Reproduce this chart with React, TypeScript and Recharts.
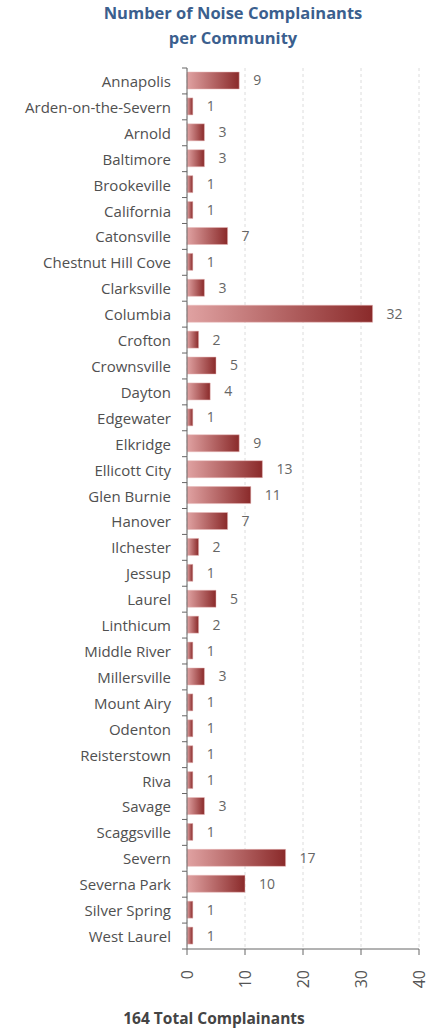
import { Bar, BarChart, CartesianGrid, LabelList, XAxis, YAxis } from "recharts";

const communities = [
  "Annapolis", "Arden-on-the-Severn", "Arnold", "Baltimore", "Brookeville", "California",
  "Catonsville", "Chestnut Hill Cove", "Clarksville", "Columbia", "Crofton", "Crownsville",
  "Dayton", "Edgewater", "Elkridge", "Ellicott City", "Glen Burnie", "Hanover", "Ilchester",
  "Jessup", "Laurel", "Linthicum", "Middle River", "Millersville", "Mount Airy", "Odenton",
  "Reisterstown", "Riva", "Savage", "Scaggsville", "Severn", "Severna Park", "Silver Spring",
  "West Laurel",
];
const complainants = [
  9, 1, 3, 3, 1, 1, 7, 1, 3, 32, 2, 5, 4, 1, 9, 13, 11, 7, 2, 1, 5, 2, 1, 3, 1, 1, 1, 1, 3, 1,
  17, 10, 1, 1,
];
const xTicks = [0, 10, 20, 30, 40];

const W = 436;
const H = 1029;
const TOP = 68;
const BOTTOM = 80;
const BAND = (H - TOP - BOTTOM) / communities.length;
const FONT = "'Open Sans', 'Noto Sans', sans-serif";

const data = communities.map((name, i) => ({ name, value: complainants[i] }));

function CategoryTick({ x, y, payload, index }: any) {
  const last = index === communities.length - 1;
  return (
    <g>
      <line x1={x - 5} x2={x} y1={y - BAND / 2} y2={y - BAND / 2} stroke="#666" />
      {last && <line x1={x - 5} x2={x} y1={y + BAND / 2} y2={y + BAND / 2} stroke="#666" />}
      <text x={x - 16} y={y} textAnchor="end" dominantBaseline="central" fill="#505050" fontSize={15} fontFamily={FONT}>
        {payload.value}
      </text>
    </g>
  );
}

function ValueTick({ x, y, payload }: any) {
  return (
    <text
      x={x}
      y={y + 13}
      transform={`rotate(-90, ${x}, ${y + 13})`}
      textAnchor="end"
      dominantBaseline="central"
      fill="#555"
      fontSize={16}
      fontFamily={FONT}
    >
      {payload.value}
    </text>
  );
}

export default function App() {
  return (
    <div style={{ position: "absolute", left: 0, top: 0, width: W, height: H, background: "#fff", fontFamily: FONT }}>
      <div
        style={{
          position: "absolute",
          top: 0,
          left: 0,
          width: W,
          paddingLeft: 30,
          boxSizing: "border-box",
          textAlign: "center",
          color: "#3b5f8e",
          fontWeight: 700,
          fontSize: 16.5,
          lineHeight: "25px",
        }}
      >
        Number of Noise Complainants
        <br />
        per Community
      </div>
      <BarChart
        width={W}
        height={H}
        data={data}
        layout="vertical"
        margin={{ top: TOP, right: 17, bottom: 30, left: 0 }}
        barSize={17}
      >
        <defs>
          <linearGradient id="barFill" x1="0" y1="0" x2="1" y2="0">
            <stop offset="0%" stopColor="#e0a2a2" />
            <stop offset="100%" stopColor="#8a2a2a" />
          </linearGradient>
        </defs>
        <CartesianGrid horizontal={false} strokeDasharray="3 3" stroke="#dcdcdc" />
        <XAxis
          type="number"
          domain={[0, 40]}
          ticks={xTicks}
          interval={0}
          height={50}
          stroke="#666"
          tickSize={6}
          tick={<ValueTick />}
        />
        <YAxis
          type="category"
          dataKey="name"
          width={187}
          interval={0}
          stroke="#666"
          tickLine={false}
          tickSize={0}
          tickMargin={0}
          tick={<CategoryTick />}
        />
        <Bar dataKey="value" fill="url(#barFill)" stroke="#e8b8b8" strokeWidth={0.5} isAnimationActive={false}>
          <LabelList dataKey="value" position="right" offset={14} fill="#666" fontSize={14} fontFamily={FONT} />
        </Bar>
      </BarChart>
      <div
        style={{
          position: "absolute",
          top: 1008,
          left: 0,
          width: 428,
          textAlign: "center",
          color: "#444",
          fontWeight: 700,
          fontSize: 15.5,
          lineHeight: "20px",
        }}
      >
        164 Total Complainants
      </div>
    </div>
  );
}
